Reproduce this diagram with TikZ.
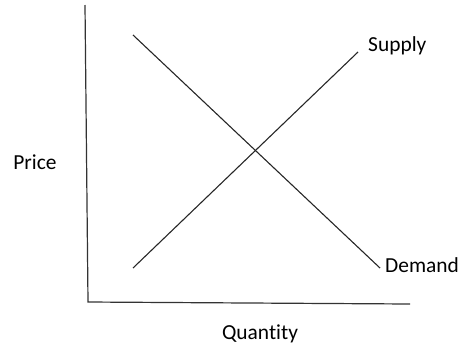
\documentclass[tikz,border=0pt]{standalone}
\usepackage{fontspec}
\setmainfont[Ligatures=NoCommon]{Carlito}
\begin{document}
\begin{tikzpicture}[x=1bp,y=-1bp,
  axis/.style={line width=1.2bp, black!80},
  curve/.style={line width=1.1bp, black!85},
  lab/.style={font=\fontsize{21.5}{24}\selectfont, inner sep=0pt}]
\useasboundingbox (0,0) rectangle (462,351);
\coordinate (ytop) at (85,5);
\coordinate (orig) at (88,302);
\coordinate (xend) at (410,304);
\draw[axis] (ytop) -- (orig) -- (xend);
\coordinate (d1) at (133,35);
\coordinate (d2) at (380,268);
\coordinate (s1) at (133,268);
\coordinate (s2) at (358,52);
\draw[curve] (d1) -- (d2);
\draw[curve] (s1) -- (s2);
\node[lab, anchor=west] (supply) at (368,46) {Supply};
\node[lab, anchor=west] (demand) at (385,265) {Demand};
\node[lab] (price) at (35,162) {Price};
\node[lab] (qty) at (260,334) {Quantity};
\end{tikzpicture}
\end{document}
